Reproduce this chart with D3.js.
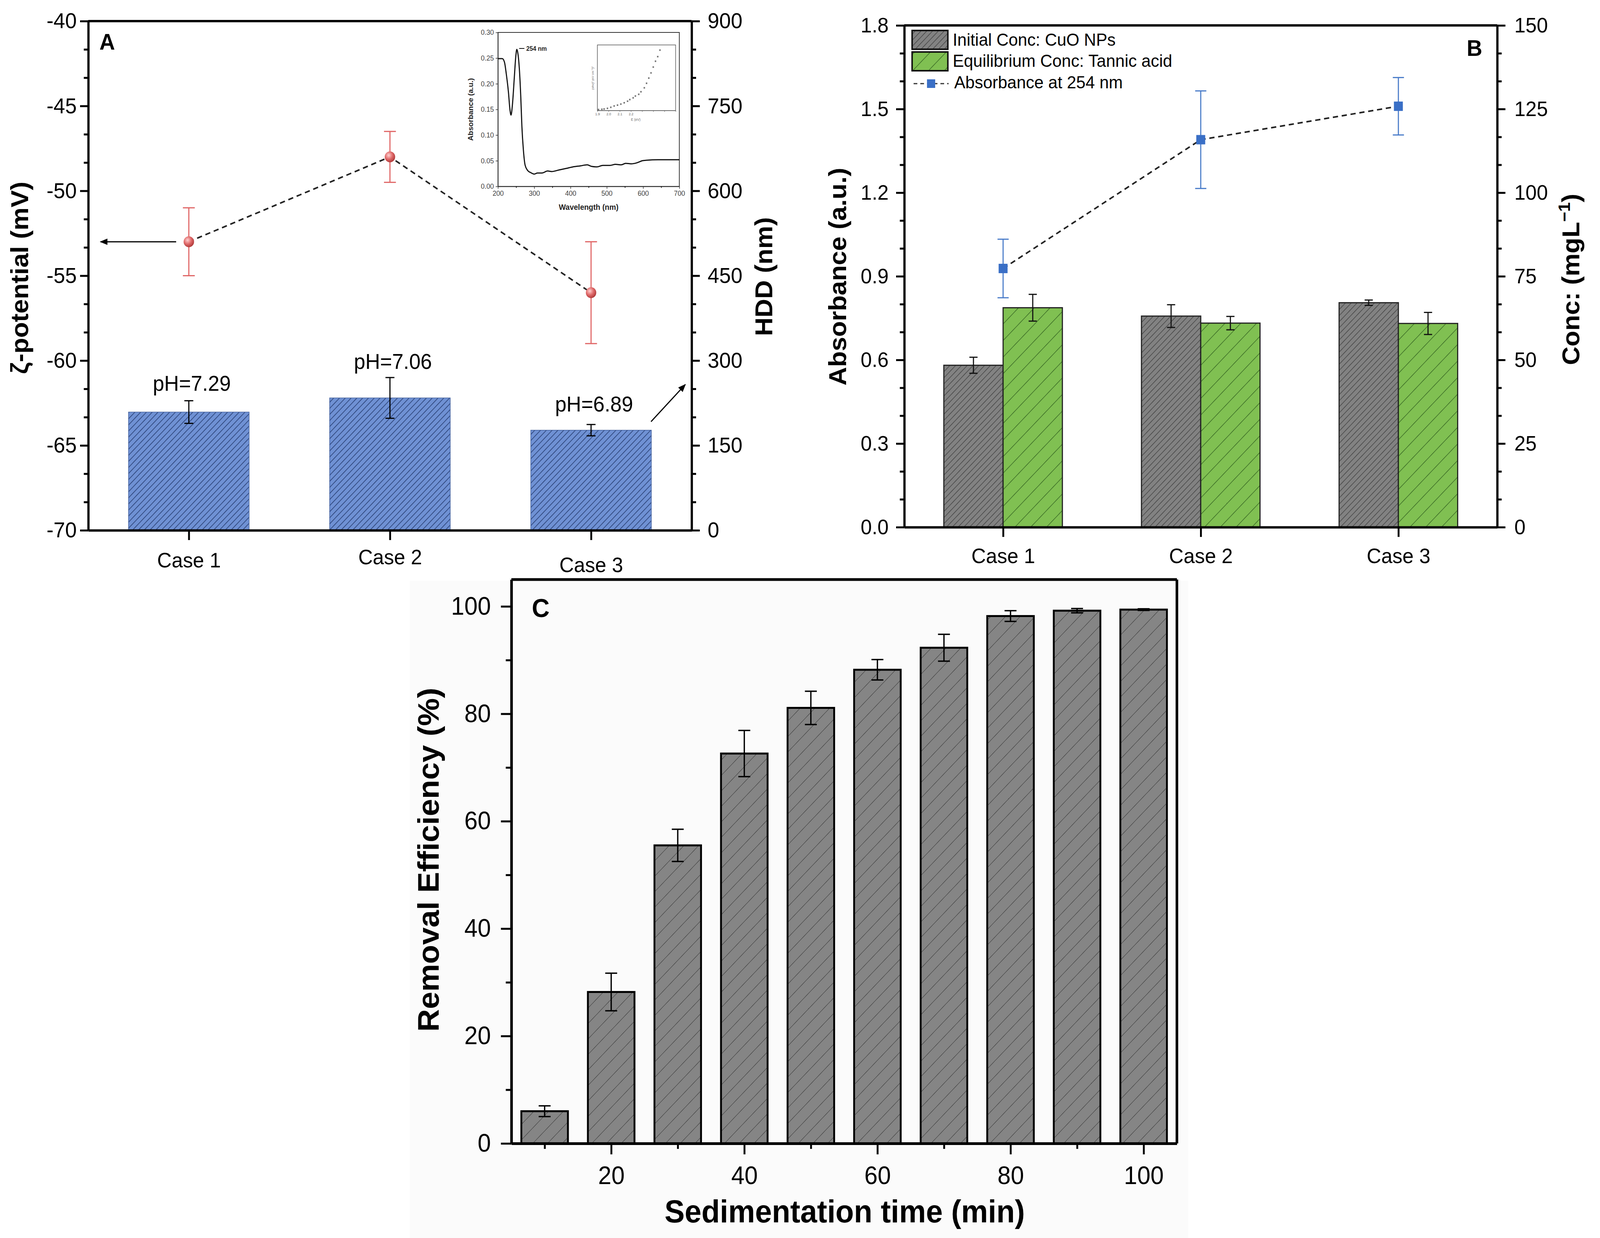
<!DOCTYPE html>
<html>
<head>
<meta charset="utf-8">
<script src="https://cdn.jsdelivr.net/npm/d3@7"></script>
<style>
  html, body { margin: 0; padding: 0; width: 100%; height: 100%; overflow: hidden; background: #fff; }
  #fig { width: 100%; height: 100%; }
  #fig svg { display: block; }
</style>
</head>
<body>
<div id="fig"></div>
<script>
// ---------- data ----------
// panel A
var casesA = ["Case 1", "Case 2", "Case 3"];
var hddMean = [209, 234, 177];
var hddErr = [20, 36, 10];
var zetaMean = [-53, -48, -56];
var zetaErr = [2, 1.5, 3];
var phLabels = ["pH=7.29", "pH=7.06", "pH=6.89"];

// panel A inset: UV-vis spectrum
var specWave = [200, 212, 218, 223, 229, 233, 236, 240, 245, 249, 252, 255, 259, 263, 266, 270, 275, 282, 290, 300, 309, 321, 337, 348, 368, 388, 407, 427, 446, 458, 473, 489, 509, 524, 540, 552, 567, 583, 598, 610, 641, 700];
var specAbs = [0.249, 0.249, 0.242, 0.219, 0.183, 0.150, 0.139, 0.160, 0.211, 0.252, 0.267, 0.259, 0.229, 0.173, 0.117, 0.072, 0.041, 0.031, 0.027, 0.024, 0.026, 0.026, 0.030, 0.029, 0.032, 0.035, 0.038, 0.040, 0.042, 0.039, 0.038, 0.041, 0.041, 0.043, 0.042, 0.045, 0.044, 0.046, 0.050, 0.051, 0.052, 0.052];
// inner Tauc plot
var taucE = [1.91, 1.94, 1.96, 1.99, 2.02, 2.05, 2.08, 2.11, 2.14, 2.17, 2.19, 2.22, 2.24, 2.27, 2.29, 2.32, 2.34, 2.36, 2.38, 2.40, 2.42, 2.44, 2.46];
var taucY = [1.6, 2.0, 2.4, 3.4, 5.0, 7.0, 8.3, 9.9, 11.9, 14.3, 16.8, 19.4, 22.2, 24.8, 28.7, 34.7, 41.6, 49.5, 57.4, 66.3, 75.2, 82.2, 92.1];

// panel B
var casesB = ["Case 1", "Case 2", "Case 3"];
var concInitial = [48.4, 63.1, 67.1];
var concInitialErr = [2.4, 3.4, 0.8];
var concEquil = [65.6, 61.0, 60.9];
var concEquilErr = [4.0, 2.0, 3.3];
var abs254 = [0.928, 1.39, 1.51];
var abs254Err = [0.105, 0.175, 0.103];
var legendB = ["Initial Conc: CuO NPs", "Equilibrium Conc: Tannic acid", "Absorbance at 254 nm"];

// panel C
var sedTime = [10, 20, 30, 40, 50, 60, 70, 80, 90, 100];
var removal = [6.0, 28.2, 55.5, 72.6, 81.1, 88.2, 92.3, 98.2, 99.2, 99.4];
var removalErr = [1.0, 3.5, 3.0, 4.3, 3.1, 1.9, 2.5, 1.0, 0.4, 0.15];

// ---------- setup ----------
var FONT = "'Liberation Sans', Arial, Helvetica, sans-serif";
var W = 4296, H = 3168;

var svg = d3.select("#fig").append("svg")
    .attr("viewBox", "0 0 " + W + " " + H)
    .attr("preserveAspectRatio", "none")
    .attr("width", "100%").attr("height", "100%")
    .attr("font-family", FONT);

svg.append("rect").attr("width", W).attr("height", H).attr("fill", "#fff");

var defs = svg.append("defs");

// hatch pattern: fill plus "/" lines
function hatch(id, fill, lineColor, gap, lw) {
    var p = defs.append("pattern")
        .attr("id", id)
        .attr("patternUnits", "userSpaceOnUse")
        .attr("width", gap).attr("height", gap)
        .attr("patternTransform", "rotate(45)");
    p.append("rect").attr("width", gap).attr("height", gap).attr("fill", fill);
    p.append("line").attr("x1", 0).attr("y1", 0).attr("x2", 0).attr("y2", gap)
        .attr("stroke", lineColor).attr("stroke-width", lw);
}
hatch("hatchBlue", "#6f91d4", "#22386a", 11, 3);
hatch("hatchGrayB", "#828282", "#383838", 11, 2.5);
hatch("hatchGreen", "#80c052", "#2c5a1c", 30, 2.5);
hatch("hatchGrayC", "#858585", "#383838", 28, 2);

var grad = defs.append("radialGradient").attr("id", "redBall")
    .attr("cx", "38%").attr("cy", "35%").attr("r", "65%");
grad.append("stop").attr("offset", "0%").attr("stop-color", "#ffd0d0");
grad.append("stop").attr("offset", "55%").attr("stop-color", "#e06a6a");
grad.append("stop").attr("offset", "100%").attr("stop-color", "#b23c3c");

defs.append("marker").attr("id", "arrowHead")
    .attr("viewBox", "0 0 10 10").attr("refX", 9).attr("refY", 5)
    .attr("markerWidth", 7).attr("markerHeight", 7)
    .attr("markerUnits", "strokeWidth")
    .attr("orient", "auto")
    .append("path").attr("d", "M0,1 L10,5 L0,9 Z").attr("fill", "#000");

function styleAxis(g, fs) {
    g.attr("font-family", FONT).attr("font-size", fs);
    g.selectAll(".domain").attr("stroke", "#000").attr("stroke-width", 6);
    g.selectAll(".tick line").attr("stroke", "#000").attr("stroke-width", 5);
    g.selectAll(".tick text").attr("fill", "#000");
}
function minorAxis(g) {
    g.select(".domain").remove();
    g.selectAll(".tick line").attr("stroke", "#000").attr("stroke-width", 5);
}
// minor tick values: n-1 ticks between each pair of majors
function minors(lo, hi, step, n) {
    var out = [];
    for (var v = lo; v < hi - 1e-9; v += step) {
        for (var k = 1; k < n; k++) out.push(v + step * k / n);
    }
    return out;
}
function errBar(g, x, y1, y2, cap, color, lw) {
    g.append("line").attr("x1", x).attr("x2", x).attr("y1", y1).attr("y2", y2)
        .attr("stroke", color).attr("stroke-width", lw);
    [y1, y2].forEach(function (yy) {
        g.append("line").attr("x1", x - cap / 2).attr("x2", x + cap / 2)
            .attr("y1", yy).attr("y2", yy)
            .attr("stroke", color).attr("stroke-width", lw);
    });
}
function rotTitle(x, y, txt, fs) {
    return svg.append("text")
        .attr("transform", "translate(" + x + "," + y + ") rotate(-90)")
        .attr("text-anchor", "middle")
        .attr("font-size", fs).attr("font-weight", "bold")
        .text(txt);
}

// ================= Panel A =================
var A = { l: 237, r: 1857, t: 54, b: 1357 };
var xA = d3.scaleLinear().domain([0.5, 3.5]).range([A.l, A.r]);
var yZeta = d3.scaleLinear().domain([-70, -40]).range([A.b, A.t]);
var yHdd = d3.scaleLinear().domain([0, 900]).range([A.b, A.t]);

var gA = svg.append("g");
var bwA = xA(1.3) - xA(0.7);

// HDD bars
gA.selectAll("rect.bar").data(hddMean).enter().append("rect")
    .attr("x", function (d, i) { return xA(i + 1) - bwA / 2; })
    .attr("y", function (d) { return yHdd(d); })
    .attr("width", bwA)
    .attr("height", function (d) { return yHdd(0) - yHdd(d); })
    .attr("fill", "url(#hatchBlue)")
    .attr("stroke", "#4a66a0").attr("stroke-width", 1.5);
hddMean.forEach(function (d, i) {
    errBar(gA, xA(i + 1), yHdd(d + hddErr[i]), yHdd(d - hddErr[i]), 24, "#000", 3);
});

// pH labels
var phY = [1000, 944, 1053];
gA.selectAll("text.ph").data(phLabels).enter().append("text")
    .attr("x", function (d, i) { return xA(i + 1) + 8; })
    .attr("y", function (d, i) { return phY[i]; })
    .attr("text-anchor", "middle")
    .attr("font-size", 55)
    .text(function (d) { return d; });

// zeta potential line
var zetaLine = d3.line()
    .x(function (d, i) { return xA(i + 1); })
    .y(function (d) { return yZeta(d); });
gA.append("path").datum(zetaMean).attr("d", zetaLine)
    .attr("fill", "none").attr("stroke", "#222").attr("stroke-width", 4)
    .attr("stroke-dasharray", "14,10");
zetaMean.forEach(function (d, i) {
    errBar(gA, xA(i + 1), yZeta(d + zetaErr[i]), yZeta(d - zetaErr[i]), 32, "#e06666", 3);
});
gA.selectAll("circle.z").data(zetaMean).enter().append("circle")
    .attr("cx", function (d, i) { return xA(i + 1); })
    .attr("cy", function (d) { return yZeta(d); })
    .attr("r", 14)
    .attr("fill", "url(#redBall)");

// arrows
gA.append("line").attr("x1", 473).attr("y1", yZeta(-53)).attr("x2", 270).attr("y2", yZeta(-53))
    .attr("stroke", "#000").attr("stroke-width", 3).attr("marker-end", "url(#arrowHead)");
gA.append("line").attr("x1", 1748).attr("y1", 1079).attr("x2", 1840).attr("y2", 984)
    .attr("stroke", "#000").attr("stroke-width", 3).attr("marker-end", "url(#arrowHead)");

// axes
var axAL = svg.append("g").attr("transform", "translate(" + A.l + ",0)")
    .call(d3.axisLeft(yZeta).tickValues(d3.range(-70, -39, 5)).tickSize(22).tickSizeOuter(0)
        .tickPadding(9).tickFormat(function (d) { return String(d); }));
styleAxis(axAL, 56);
minorAxis(svg.append("g").attr("transform", "translate(" + A.l + ",0)")
    .call(d3.axisLeft(yZeta).tickValues(minors(-70, -40, 5, 3)).tickSize(12).tickFormat("")));

var axAR = svg.append("g").attr("transform", "translate(" + A.r + ",0)")
    .call(d3.axisRight(yHdd).tickValues(d3.range(0, 901, 150)).tickSize(22).tickSizeOuter(0).tickPadding(21));
styleAxis(axAR, 56);
minorAxis(svg.append("g").attr("transform", "translate(" + A.r + ",0)")
    .call(d3.axisRight(yHdd).tickValues(minors(0, 900, 150, 3)).tickSize(12).tickFormat("")));

var caseShiftA = [0, -8, 12];
var axAB = svg.append("g").attr("transform", "translate(0," + A.b + ")")
    .call(d3.axisBottom(xA).tickValues([1, 2, 3]).tickSize(25).tickSizeOuter(0).tickPadding(32)
        .tickFormat(function (d) { return casesA[d - 1]; }));
styleAxis(axAB, 54);
axAB.selectAll(".tick text").attr("transform", function (d) { return "translate(0," + caseShiftA[d - 1] + ")"; });
svg.append("line").attr("x1", A.l).attr("x2", A.r).attr("y1", A.t).attr("y2", A.t)
    .attr("stroke", "#000").attr("stroke-width", 6);

svg.append("text").attr("x", 267).attr("y", 127).attr("font-size", 58).attr("font-weight", "bold").text("A");
rotTitle(76, 711, "ζ-potential (mV)", 66);
rotTitle(2074, 708, "HDD (nm)", 66);

// ---- inset spectrum ----
var I = { l: 1337, r: 1824, t: 83, b: 477 };
var xW = d3.scaleLinear().domain([200, 700]).range([I.l, I.r]);
var yS = d3.scaleLinear().domain([0, 0.30]).range([I.b, I.t]);
var gI = svg.append("g");
gI.append("rect").attr("x", I.l).attr("y", I.t).attr("width", I.r - I.l).attr("height", I.b - I.t)
    .attr("fill", "#fff").attr("stroke", "#333").attr("stroke-width", 2);
var axIB = gI.append("g").attr("transform", "translate(0," + I.b + ")")
    .call(d3.axisBottom(xW).tickValues(d3.range(200, 701, 100)).tickSize(6).tickSizeOuter(0).tickPadding(5));
axIB.attr("font-family", FONT).attr("font-size", 18);
axIB.selectAll("line,path").attr("stroke", "#333").attr("stroke-width", 2);
axIB.selectAll("text").attr("fill", "#444");
minorAxis(gI.append("g").attr("transform", "translate(0," + I.b + ")")
    .call(d3.axisBottom(xW).tickValues(d3.range(250, 700, 100)).tickSize(4).tickFormat("")));
var axIL = gI.append("g").attr("transform", "translate(" + I.l + ",0)")
    .call(d3.axisLeft(yS).tickValues(d3.range(0, 0.301, 0.05)).tickSize(6).tickSizeOuter(0)
        .tickPadding(5).tickFormat(d3.format(".2f")));
axIL.attr("font-family", FONT).attr("font-size", 18);
axIL.selectAll("line,path").attr("stroke", "#333").attr("stroke-width", 2);
axIL.selectAll("text").attr("fill", "#444");
gI.selectAll(".tick line").attr("stroke-width", 1.5);

var specLine = d3.line().curve(d3.curveMonotoneX)
    .x(function (d, i) { return xW(specWave[i]); })
    .y(function (d) { return yS(d); });
gI.append("path").datum(specAbs).attr("d", specLine)
    .attr("fill", "none").attr("stroke", "#111").attr("stroke-width", 3);
gI.append("line").attr("x1", 1408).attr("x2", 1394).attr("y1", 124).attr("y2", 124)
    .attr("stroke", "#111").attr("stroke-width", 2);
gI.append("text").attr("x", 1413).attr("y", 130).attr("font-size", 16).attr("font-weight", "bold")
    .attr("fill", "#222").text("254 nm");
gI.append("text").attr("x", (I.l + I.r) / 2).attr("y", 537).attr("text-anchor", "middle")
    .attr("font-size", 20).attr("font-weight", "bold").attr("fill", "#222").text("Wavelength (nm)");
gI.append("text").attr("transform", "translate(1270,280) rotate(-90)").attr("text-anchor", "middle")
    .attr("font-size", 19).attr("font-weight", "bold").attr("fill", "#222").text("Absorbance (a.u.)");

// inner Tauc plot
var T = { l: 1604, r: 1814, t: 115, b: 283 };
var xE = d3.scaleLinear().domain([1.9, 2.6]).range([T.l, T.r]);
var yT = d3.scaleLinear().domain([0, 100]).range([T.b, T.t]);
gI.append("rect").attr("x", T.l).attr("y", T.t).attr("width", T.r - T.l).attr("height", T.b - T.t)
    .attr("fill", "#fff").attr("stroke", "#555").attr("stroke-width", 1.5);
var axTB = gI.append("g").attr("transform", "translate(0," + T.b + ")")
    .call(d3.axisBottom(xE).tickValues(d3.range(1.9, 2.61, 0.1)).tickSize(3).tickSizeOuter(0).tickPadding(3)
        .tickFormat(function (d, i) { return i < 4 ? d3.format(".1f")(d) : ""; }));
axTB.attr("font-family", FONT).attr("font-size", 9);
axTB.selectAll("line,path").attr("stroke", "#555").attr("stroke-width", 1);
axTB.selectAll("text").attr("fill", "#666");
gI.append("text").attr("x", 1707).attr("y", 309).attr("text-anchor", "middle").attr("font-size", 9)
    .attr("fill", "#666").text("E (eV)");
gI.append("text").attr("transform", "translate(1594,200) rotate(-90)").attr("text-anchor", "middle")
    .attr("font-size", 8).attr("fill", "#666").text("(αhν)² (eV cm⁻¹)²");
gI.selectAll("rect.tp").data(taucY).enter().append("rect")
    .attr("x", function (d, i) { return xE(taucE[i]) - 2; })
    .attr("y", function (d) { return yT(d) - 2; })
    .attr("width", 4).attr("height", 4)
    .attr("fill", "#777");

// ================= Panel B =================
var B = { l: 2428, r: 4020, t: 65, b: 1349 };
var xB = d3.scaleLinear().domain([0.5, 3.5]).range([B.l, B.r]);
var yAbs = d3.scaleLinear().domain([0, 1.8]).range([B.b, B.t]);
var yConc = d3.scaleLinear().domain([0, 150]).range([B.b, B.t]);
var gB = svg.append("g");
var bwB = xB(1.3) - xB(1);

gB.selectAll("rect.init").data(concInitial).enter().append("rect")
    .attr("x", function (d, i) { return xB(i + 1) - bwB; })
    .attr("y", function (d) { return yConc(d); })
    .attr("width", bwB)
    .attr("height", function (d) { return yConc(0) - yConc(d); })
    .attr("fill", "url(#hatchGrayB)").attr("stroke", "#222").attr("stroke-width", 3);
gB.selectAll("rect.eq").data(concEquil).enter().append("rect")
    .attr("x", function (d, i) { return xB(i + 1); })
    .attr("y", function (d) { return yConc(d); })
    .attr("width", bwB)
    .attr("height", function (d) { return yConc(0) - yConc(d); })
    .attr("fill", "url(#hatchGreen)").attr("stroke", "#222").attr("stroke-width", 3);
concInitial.forEach(function (d, i) {
    errBar(gB, xB(i + 1) - bwB / 2, yConc(d + concInitialErr[i]), yConc(d - concInitialErr[i]), 22, "#111", 3);
});
concEquil.forEach(function (d, i) {
    errBar(gB, xB(i + 1) + bwB / 2, yConc(d + concEquilErr[i]), yConc(d - concEquilErr[i]), 22, "#111", 3);
});

var absLine = d3.line()
    .x(function (d, i) { return xB(i + 1); })
    .y(function (d) { return yAbs(d); });
gB.append("path").datum(abs254).attr("d", absLine)
    .attr("fill", "none").attr("stroke", "#222").attr("stroke-width", 4)
    .attr("stroke-dasharray", "14,10");
abs254.forEach(function (d, i) {
    errBar(gB, xB(i + 1), yAbs(d + abs254Err[i]), yAbs(d - abs254Err[i]), 30, "#4a7cc9", 3);
});
gB.selectAll("rect.sq").data(abs254).enter().append("rect")
    .attr("x", function (d, i) { return xB(i + 1) - 12; })
    .attr("y", function (d) { return yAbs(d) - 12; })
    .attr("width", 24).attr("height", 24)
    .attr("fill", "#3a6fc6");

var axBL = svg.append("g").attr("transform", "translate(" + B.l + ",0)")
    .call(d3.axisLeft(yAbs).tickValues(d3.range(0, 1.81, 0.3)).tickSize(22).tickSizeOuter(0)
        .tickPadding(20).tickFormat(d3.format(".1f")));
styleAxis(axBL, 54);
minorAxis(svg.append("g").attr("transform", "translate(" + B.l + ",0)")
    .call(d3.axisLeft(yAbs).tickValues(minors(0, 1.8, 0.3, 3)).tickSize(12).tickFormat("")));
var axBR = svg.append("g").attr("transform", "translate(" + B.r + ",0)")
    .call(d3.axisRight(yConc).tickValues(d3.range(0, 151, 25)).tickSize(22).tickSizeOuter(0).tickPadding(24));
styleAxis(axBR, 54);
minorAxis(svg.append("g").attr("transform", "translate(" + B.r + ",0)")
    .call(d3.axisRight(yConc).tickValues(minors(0, 150, 25, 3)).tickSize(12).tickFormat("")));
var axBB = svg.append("g").attr("transform", "translate(0," + B.b + ")")
    .call(d3.axisBottom(xB).tickValues([1, 2, 3]).tickSize(25).tickSizeOuter(0).tickPadding(29)
        .tickFormat(function (d) { return casesB[d - 1]; }));
styleAxis(axBB, 54);
svg.append("line").attr("x1", B.l).attr("x2", B.r).attr("y1", B.t).attr("y2", B.t)
    .attr("stroke", "#000").attr("stroke-width", 6);

svg.append("text").attr("x", 3938).attr("y", 143).attr("font-size", 58).attr("font-weight", "bold").text("B");
rotTitle(2272, 708, "Absorbance (a.u.)", 66);
var concTitle = svg.append("text")
    .attr("transform", "translate(4240,715) rotate(-90)")
    .attr("text-anchor", "middle").attr("font-size", 66).attr("font-weight", "bold");
concTitle.append("tspan").text("Conc: (mgL");
concTitle.append("tspan").attr("baseline-shift", "super").attr("font-size", 44).text("−1");
concTitle.append("tspan").text(")");

// legend
var legFills = ["url(#hatchGrayB)", "url(#hatchGreen)"];
var legTop = [78, 133];
legFills.forEach(function (f, i) {
    gB.append("rect").attr("x", 2449).attr("y", legTop[i]).attr("width", 96).attr("height", 48)
        .attr("fill", f).attr("stroke", "#111").attr("stroke-width", 4);
});
gB.append("line").attr("x1", 2453).attr("x2", 2547).attr("y1", 214).attr("y2", 214)
    .attr("stroke", "#333").attr("stroke-width", 3).attr("stroke-dasharray", "10,8");
gB.append("rect").attr("x", 2489).attr("y", 203).attr("width", 22).attr("height", 22).attr("fill", "#3a6fc6");
var legBase = [117, 171, 226];
gB.selectAll("text.leg").data(legendB).enter().append("text")
    .attr("x", function (d, i) { return i === 2 ? 2562 : 2558; })
    .attr("y", function (d, i) { return legBase[i]; })
    .attr("font-size", 45)
    .text(function (d) { return d; });

// ================= Panel C =================
var C = { l: 1373, r: 3160, t: 1483, b: 2926 };
svg.append("rect").attr("x", 1100).attr("y", 1486).attr("width", 2090).attr("height", H - 1486)
    .attr("fill", "#fbfbfb");
var xC = d3.scaleLinear().domain([5, 105]).range([C.l, C.r]);
var yC = d3.scaleLinear().domain([0, 105]).range([C.b, C.t]);
var gC = svg.append("g");
var bwC = xC(12) - xC(5);

gC.selectAll("rect.bar").data(removal).enter().append("rect")
    .attr("x", function (d, i) { return xC(sedTime[i]) - bwC / 2; })
    .attr("y", function (d) { return yC(d); })
    .attr("width", bwC)
    .attr("height", function (d) { return yC(0) - yC(d); })
    .attr("fill", "url(#hatchGrayC)").attr("stroke", "#000").attr("stroke-width", 5);
removal.forEach(function (d, i) {
    errBar(gC, xC(sedTime[i]), yC(d + removalErr[i]), yC(d - removalErr[i]), 32, "#000", 3.5);
});

var axCL = svg.append("g").attr("transform", "translate(" + C.l + ",0)")
    .call(d3.axisLeft(yC).tickValues(d3.range(0, 101, 20)).tickSize(28).tickSizeOuter(0).tickPadding(27));
styleAxis(axCL, 64);
axCL.selectAll(".domain").attr("stroke-width", 7);
minorAxis(svg.append("g").attr("transform", "translate(" + C.l + ",0)")
    .call(d3.axisLeft(yC).tickValues(d3.range(10, 100, 20)).tickSize(15).tickFormat("")));
var axCB = svg.append("g").attr("transform", "translate(0," + C.b + ")")
    .call(d3.axisBottom(xC).tickValues(d3.range(20, 101, 20)).tickSize(28).tickSizeOuter(0).tickPadding(31));
styleAxis(axCB, 64);
axCB.selectAll(".domain").attr("stroke-width", 7);
minorAxis(svg.append("g").attr("transform", "translate(0," + C.b + ")")
    .call(d3.axisBottom(xC).tickValues(d3.range(10, 100, 20)).tickSize(14).tickFormat("")));
svg.append("line").attr("x1", C.l).attr("x2", C.r).attr("y1", C.t).attr("y2", C.t)
    .attr("stroke", "#000").attr("stroke-width", 7);
svg.append("line").attr("x1", C.r).attr("x2", C.r).attr("y1", C.t).attr("y2", C.b)
    .attr("stroke", "#000").attr("stroke-width", 7);

svg.append("text").attr("x", 1428).attr("y", 1579).attr("font-size", 66).attr("font-weight", "bold").text("C");
rotTitle(1178, 2200, "Removal Efficiency (%)", 80);
svg.append("text").attr("x", 2268).attr("y", 3128).attr("text-anchor", "middle")
    .attr("font-size", 81).attr("font-weight", "bold").text("Sedimentation time (min)");
</script>
</body>
</html>
